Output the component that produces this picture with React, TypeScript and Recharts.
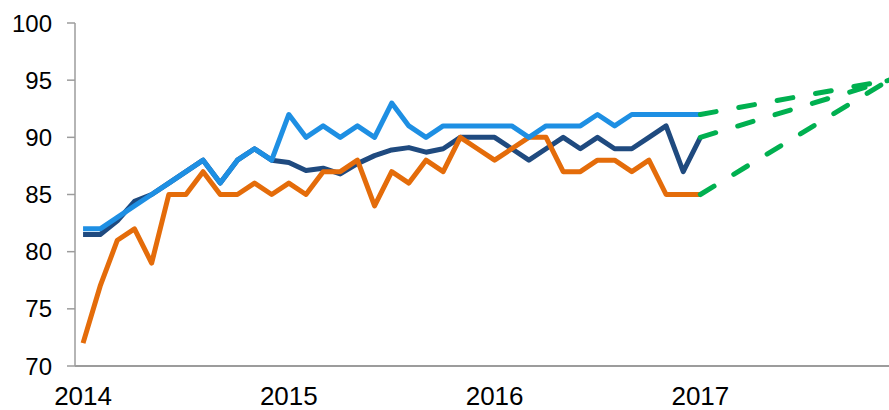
import { LineChart, Line, XAxis, YAxis } from "recharts"

// monthly readings, Jan 2014 .. Jan 2017
const lightBlue = [82, 82, 83, 84, 85, 86, 87, 88, 86, 88, 89, 88, 92, 90, 91, 90, 91, 90, 93, 91, 90, 91, 91, 91, 91, 91, 90, 91, 91, 91, 92, 91, 92, 92, 92, 92, 92]
const navy = [81.5, 81.5, 82.7, 84.4, 85, 86, 87, 88, 86, 88, 89, 88, 87.8, 87.1, 87.3, 86.8, 87.7, 88.4, 88.9, 89.1, 88.7, 89, 90, 90, 90, 89, 88, 89, 90, 89, 90, 89, 89, 90, 91, 87, 90]
const orange = [72, 77, 81, 82, 79, 85, 85, 87, 85, 85, 86, 85, 86, 85, 87, 87, 88, 84, 87, 86, 88, 87, 90, 89, 88, 89, 90, 90, 87, 87, 88, 88, 87, 88, 85, 85, 85]

// dashed targets, Jan 2017 -> Dec 2017
const forecastMonths = [36, 47]
const targetHigh = [92, 95]
const targetMid = [90, 95]
const targetLow = [85, 95]

const yearTicks = [0, 12, 24, 36]
const yearLabels = ["2014", "2015", "2016", "2017"]
const yTicks = [70, 75, 80, 85, 90, 95, 100]

const totalMonths = 48

const data = Array.from({ length: totalMonths }, (_, m) => {
  const f = forecastMonths.indexOf(m)
  return {
    m,
    lightBlue: lightBlue[m],
    navy: navy[m],
    orange: orange[m],
    gHigh: f >= 0 ? targetHigh[f] : undefined,
    gMid: f >= 0 ? targetMid[f] : undefined,
    gLow: f >= 0 ? targetLow[f] : undefined,
  }
})

const axisColor = "#9c9c9c"
const font = "'Liberation Sans', Arial, sans-serif"

export default function App() {
  return (
    <div style={{ position: "absolute", left: 0, top: 0, width: 889, height: 410, background: "#fff" }}>
      <LineChart width={889} height={410} data={data} margin={{ top: 23, right: 0, bottom: 0, left: 0 }}>
        <XAxis
          dataKey="m"
          type="number"
          domain={[-0.47, 47]}
          ticks={yearTicks}
          tickFormatter={(v) => yearLabels[yearTicks.indexOf(v)]}
          height={44}
          tickLine={false}
          tickSize={6}
          tickMargin={15}
          axisLine={{ stroke: axisColor, strokeWidth: 2 }}
          tick={{ fill: "#000", fontSize: 26, fontFamily: font }}
          allowDataOverflow
        />
        <YAxis
          domain={[70, 100]}
          ticks={yTicks}
          width={75}
          tickSize={8}
          tickMargin={15}
          axisLine={{ stroke: axisColor, strokeWidth: 1.5 }}
          tickLine={{ stroke: axisColor, strokeWidth: 1.5 }}
          tick={{ fill: "#000", fontSize: 24, fontFamily: font }}
        />
        <Line dataKey="navy" stroke="#1f4a7f" strokeWidth={5} dot={false} strokeLinejoin="round" isAnimationActive={false} />
        <Line dataKey="orange" stroke="#e46c0a" strokeWidth={5} dot={false} strokeLinejoin="round" isAnimationActive={false} />
        <Line dataKey="lightBlue" stroke="#1e8fe3" strokeWidth={5} dot={false} strokeLinejoin="round" isAnimationActive={false} />
        <Line dataKey="gHigh" stroke="#00b050" strokeWidth={5} strokeDasharray="16 23" strokeLinecap="round" dot={false} connectNulls isAnimationActive={false} />
        <Line dataKey="gMid" stroke="#00b050" strokeWidth={5} strokeDasharray="16 23" strokeLinecap="round" dot={false} connectNulls isAnimationActive={false} />
        <Line dataKey="gLow" stroke="#00b050" strokeWidth={5} strokeDasharray="16 23" strokeLinecap="round" dot={false} connectNulls isAnimationActive={false} />
      </LineChart>
    </div>
  )
}
